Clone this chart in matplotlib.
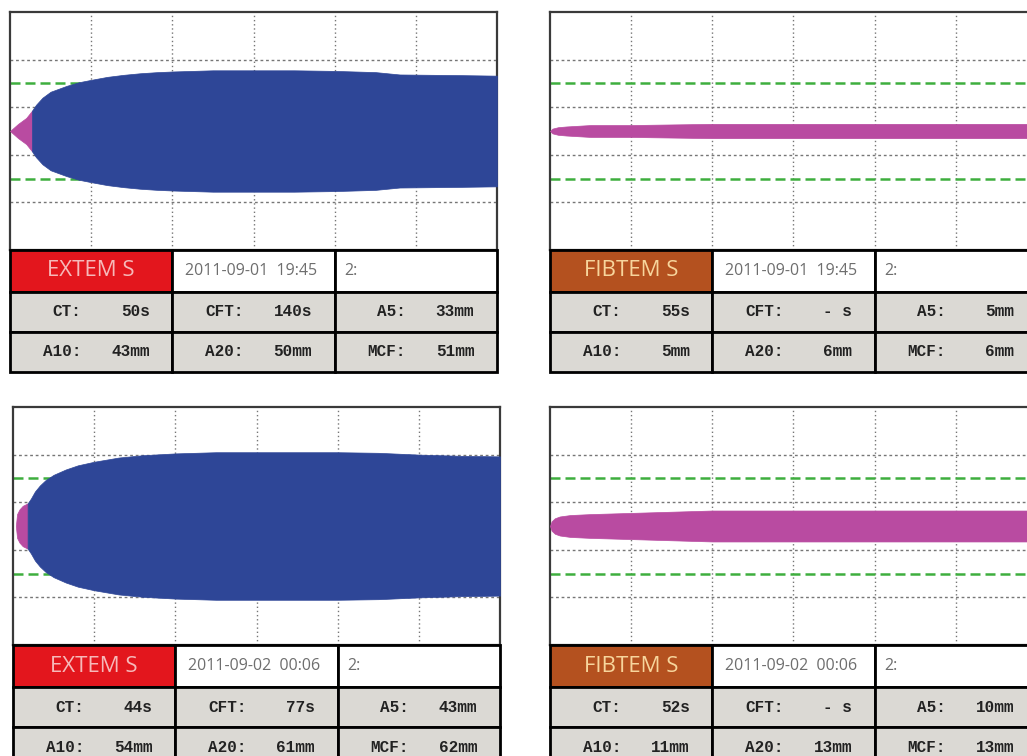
import numpy as np
import matplotlib.pyplot as plt
from matplotlib.patches import Rectangle

# clot amplitude traces: minutes after CT vs. full amplitude in mm
extem1_t = [0, 1, 2, 2.7, 3.2, 4, 5, 6, 7, 8.5, 10, 12, 14, 16, 18, 20, 25, 30, 35, 40, 45, 48, 55, 60]
extem1_amp = [0, 6, 11, 17, 22, 28, 33, 35.5, 38, 41, 43, 45.5, 47.2, 48.5, 49.4, 50, 51, 51, 51, 50.5, 49.5, 47.5, 47, 46.5]
extem1_pink_end = 2.7

fibtem1_t = [0, 0.3, 1, 2, 5, 10, 20, 30, 45, 60]
fibtem1_amp = [0, 2, 3.2, 3.8, 5, 5, 6, 6, 6, 6]

extem2_t = [0.35, 0.5, 0.8, 1.2, 1.8, 2.2, 2.7, 3.3, 4, 5, 6.5, 8, 10, 13, 16, 20, 25, 30, 40, 45, 50, 55, 60]
extem2_amp = [0, 10, 14, 17, 19, 23, 29, 34, 38.5, 43, 47.5, 51, 54, 57.5, 59.5, 61, 62, 62, 62, 61.5, 60, 59, 58.5]
extem2_pink_end = 1.8

fibtem2_t = [0, 0.2, 0.6, 1.2, 2.5, 5, 10, 15, 20, 30, 45, 60]
fibtem2_amp = [0, 4, 6.5, 8, 9.2, 10, 11, 12, 13, 13, 13, 13]

# result tables
test_names = ["EXTEM S", "FIBTEM S", "EXTEM S", "FIBTEM S"]
test_dates = ["2011-09-01  19:45", "2011-09-01  19:45", "2011-09-02  00:06", "2011-09-02  00:06"]
ct_s = [50, 55, 44, 52]
cft_s = [140, None, 77, None]
a5_mm = [33, 5, 43, 10]
a10_mm = [43, 5, 54, 11]
a20_mm = [50, 6, 61, 13]
mcf_mm = [51, 6, 62, 13]

W, H = 1027, 756
BLUE = "#2e4697"
PINK = "#b94ba1"
GREEN = "#3eae3e"
GRID = "#767676"
HEAD_COLORS = {"EXTEM S": ("#e3161d", "#f6b9b9"), "FIBTEM S": ("#b4511f", "#f7d59c")}
ROW_GRAY = "#dbd9d4"


def px_axes(fig, left, top, width, height):
    return fig.add_axes([left / W, 1 - (top + height) / H, width / W, height / H])


def draw_trace(ax, t, amp, pink_end=None):
    t = np.array(t, dtype=float)
    amp = np.array(amp, dtype=float)
    ax.set_xlim(0, 60)
    ax.set_ylim(-50, 50)
    for x in range(10, 60, 10):
        ax.axvline(x, color=GRID, lw=1, ls=(0, (1, 2)), zorder=1)
    for y in (-30, -10, 10, 30):
        ax.axhline(y, color=GRID, lw=1, ls=(0, (2, 2)), zorder=1)
    for y in (-20, 20):
        ax.axhline(y, color=GREEN, lw=1.8, ls=(0, (4, 2)), zorder=2)
    if pink_end is None:
        ax.fill_between(t, -amp / 2, amp / 2, color=PINK, lw=0.5, ec=PINK, zorder=3)
    else:
        i = int(np.where(t == pink_end)[0][0])
        ax.fill_between(t[:i + 1], -amp[:i + 1] / 2, amp[:i + 1] / 2, color=PINK, lw=0.5, ec=PINK, zorder=3)
        ax.fill_between(t[i:], -amp[i:] / 2, amp[i:] / 2, color=BLUE, lw=0.5, ec=BLUE, zorder=3)
    ax.set_xticks([])
    ax.set_yticks([])
    for s in ax.spines.values():
        s.set_color("#3a3a3a")
        s.set_linewidth(1.6)


def draw_table(ax, k):
    ax.set_xlim(0, 3)
    ax.set_ylim(122, 0)
    ax.axis("off")
    face, txt = HEAD_COLORS[test_names[k]]
    rows = [(0, 42), (42, 82), (82, 122)]
    for c in range(3):
        for r, (y0, y1) in enumerate(rows):
            if r == 0:
                fc = face if c == 0 else "white"
            else:
                fc = ROW_GRAY
            ax.add_patch(Rectangle((c, y0), 1, y1 - y0, fc=fc, ec="black", lw=2, clip_on=False))
    ax.text(0.5, 21, test_names[k], color=txt, fontsize=16, family="Open Sans",
            ha="center", va="center")
    ax.text(1.075, 21, test_dates[k], color="#6e6e6e", fontsize=11.5, family="Open Sans",
            ha="left", va="center")
    ax.text(2.06, 21, "2:", color="#6e6e6e", fontsize=11.5, family="Open Sans",
            ha="left", va="center")
    cft = "- s" if cft_s[k] is None else f"{cft_s[k]}s"
    cells = [
        [("CT:", f"{ct_s[k]}s"), ("CFT:", cft), ("A5:", f"{a5_mm[k]}mm")],
        [("A10:", f"{a10_mm[k]}mm"), ("A20:", f"{a20_mm[k]}mm"), ("MCF:", f"{mcf_mm[k]}mm")],
    ]
    for r, row in enumerate(cells):
        yc = 62 + 40 * r
        for c, (lab, val) in enumerate(row):
            ax.text(c + 0.44, yc, lab, ha="right", va="center", fontsize=11.5,
                    family="Liberation Mono", weight="bold", color="#222222")
            ax.text(c + 0.86, yc, val, ha="right", va="center", fontsize=11.5,
                    family="Liberation Mono", weight="bold", color="#222222")


fig = plt.figure(figsize=(W / 100, H / 100), dpi=100)
fig.patch.set_facecolor("white")

panels = [
    (10, 12, extem1_t, extem1_amp, extem1_pink_end),
    (550, 12, fibtem1_t, fibtem1_amp, None),
    (13, 407, extem2_t, extem2_amp, extem2_pink_end),
    (550, 407, fibtem2_t, fibtem2_amp, None),
]
for k, (left, top, t, amp, pink_end) in enumerate(panels):
    ax = px_axes(fig, left, top, 487, 238)
    draw_trace(ax, t, amp, pink_end)
    tab = px_axes(fig, left, top + 238, 487, 122)
    draw_table(tab, k)

fig.savefig("out.png", dpi=100, facecolor="white")
